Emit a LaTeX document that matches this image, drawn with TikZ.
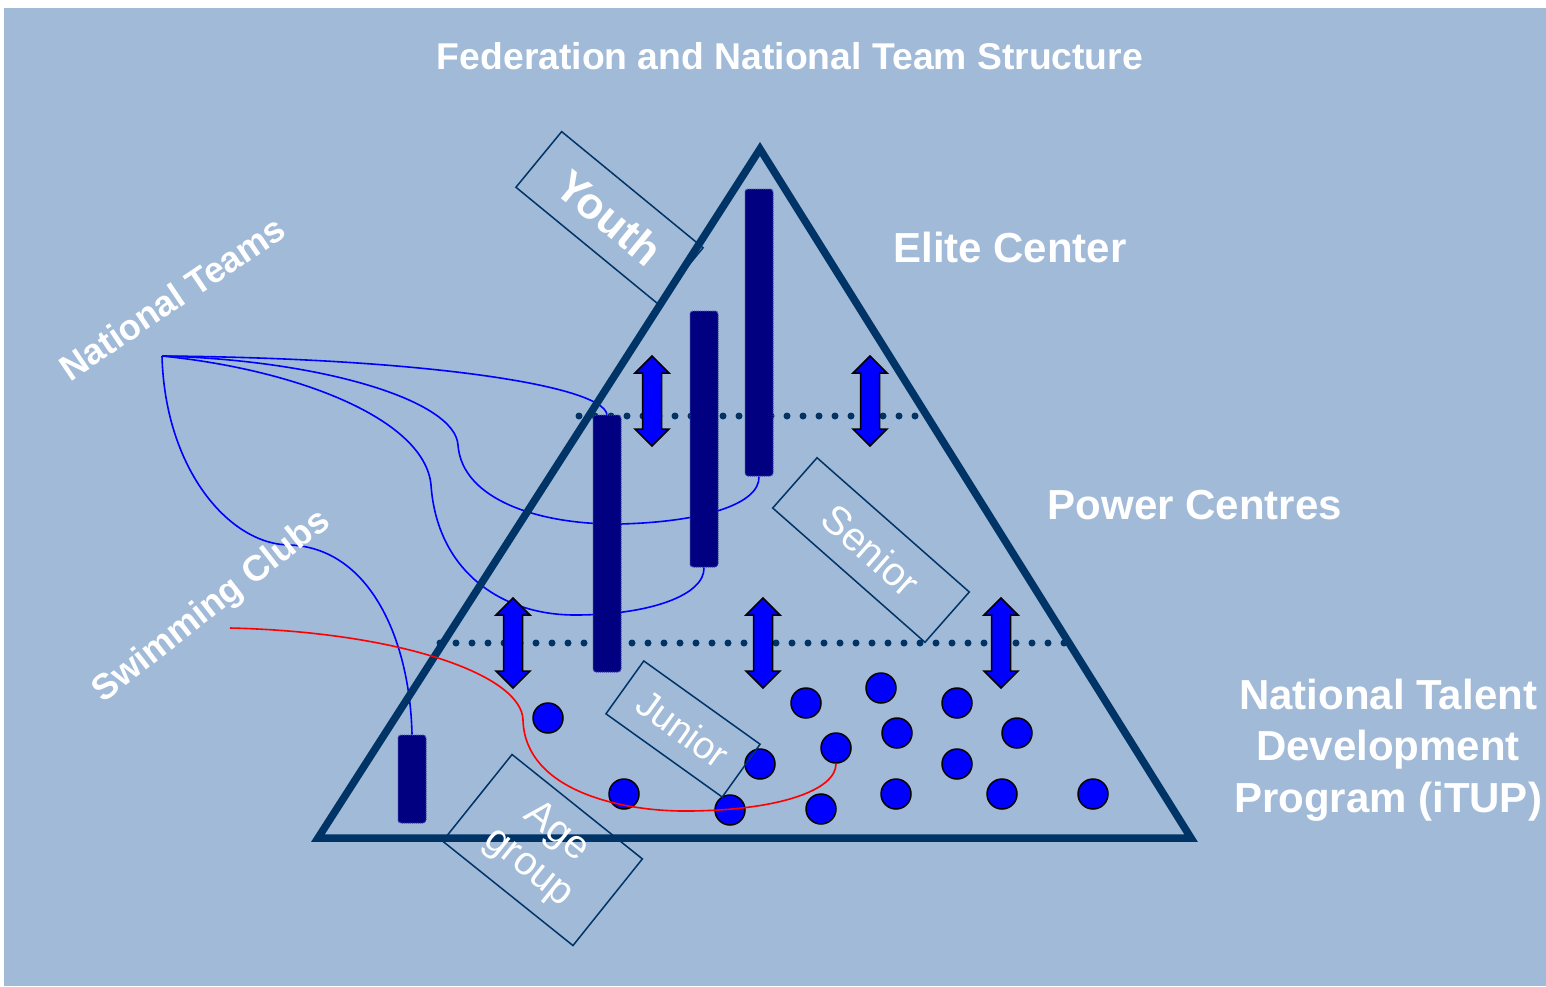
\documentclass[tikz,border=0pt]{standalone}
\usepackage{fontspec}
\setmainfont{Liberation Sans}
\usetikzlibrary{backgrounds}

\definecolor{bgblue}{RGB}{160,186,216}
\definecolor{navyline}{RGB}{0,51,102}
\definecolor{barnavy}{RGB}{0,0,128}
\definecolor{arrowblue}{RGB}{0,0,255}

\tikzset{
  pyramid/.style={draw=navyline, line width=7.5pt},
  level/.style={navyline, line width=7pt, line cap=round, dash pattern=on 0pt off 16pt},
  bar/.style={rectangle, fill=barnavy, draw={rgb,255:red,70;green,70;blue,170}, densely dotted, line width=1pt, rounded corners=3pt, minimum width=28pt, inner sep=0pt},
  talent/.style={circle, fill=arrowblue, draw=black, line width=1.5pt, minimum size=30pt, inner sep=0pt},
  team/.style={draw=arrowblue, line width=1.6pt},
  club/.style={draw=red, line width=1.6pt},
  levelbox/.style={rectangle, draw=navyline, line width=1.5pt, inner sep=0pt, text=white, align=center, font=\fontsize{40}{45}\selectfont},
  tier/.style={text=white, inner sep=0pt, font=\bfseries\fontsize{42}{51.5}\selectfont},
  side/.style={text=white, inner sep=0pt, font=\bfseries\fontsize{36}{40}\selectfont},
  updown/.pic={
    \draw[fill=arrowblue, line width=1.5pt, line join=miter] (0,-45) -- (17,-28) -- (9.5,-28) -- (9.5,28) -- (17,28) -- (0,45) -- (-17,28) -- (-9.5,28) -- (-9.5,-28) -- (-17,-28) -- cycle;
  }
}

\begin{document}
\begin{tikzpicture}[x=1pt,y=-1pt]
  \useasboundingbox (0,0) rectangle (1546,986);

  % pyramid
  \draw[pyramid] (760,149) -- (1191,838) -- (318,838) -- cycle;

  % squads
  \node[bar, minimum height=257pt] (barA) at (607,543.5) {};
  \node[bar, minimum height=256pt] (barB) at (704,439) {};
  \node[bar, minimum height=287pt] (barC) at (759,332.5) {};
  \node[bar, minimum height=88pt] (barD) at (412,779) {};

  % movement between the levels
  \pic (upA) at (652,401) {updown};
  \pic (upB) at (870,401) {updown};
  \pic (upC) at (513,643) {updown};
  \pic (upD) at (763,643) {updown};
  \pic (upE) at (1001,643) {updown};

  % talents
  \foreach \i/\x/\y in {1/548/718, 2/624/794, 3/730/810, 4/760/764, 5/806/703,
      6/836/748, 7/821/809, 8/881/688, 9/897/733, 10/896/794,
      11/957/703, 12/957/764, 13/1017/733, 14/1002/794, 15/1093/794}
    \node[talent] (t\i) at (\x,\y) {};

  % clubs
  \coordinate (sc) at (230,628);
  \draw[club] (sc) .. controls (400,632) and (522,675) .. (523,720)
    .. controls (525,790) and (620,812) .. (690,811)
    .. controls (780,810) and (836,790) .. (t6.south);

  % age levels
  \node[levelbox, minimum width=183pt, minimum height=72pt, rotate=-39.4, font=\bfseries\fontsize{44}{50}\selectfont] (youth) at (609.5,217.5) {Youth};
  \node[levelbox, minimum width=203pt, minimum height=67pt, rotate=-41.4] (senior) at (871,550) {Senior};
  \node[levelbox, minimum width=143pt, minimum height=65pt, rotate=-35.6, font=\fontsize{38}{44}\selectfont] (junior) at (683,729) {Junior};
  \node[levelbox, minimum width=167pt, minimum height=111pt, rotate=-38.7] (agegroup) at (542.5,850) {Age\\group};

  % labels
  \node[text=white, inner sep=0pt, anchor=base, font=\bfseries\fontsize{37.3}{44}\selectfont] (title) at (790,69) {Federation and National Team Structure};
  \node[tier] (elite) at (1010,247) {Elite Center};
  \node[tier] (power) at (1195,505) {Power Centres};
  \node[tier, align=center] (itup) at (1388,750) {National Talent\\Development\\Program (iTUP)};
  \node[side, rotate=34] (natteams) at (172,298) {National Teams};
  \node[side, rotate=38] (clubs) at (212,607) {Swimming Clubs};

  \begin{scope}[on background layer]
    \fill[white] (0,0) rectangle (1546,986);
    \fill[bgblue] (4,8) rectangle (1546,986);
    \draw[level] (579,416) -- (917,416);
    \draw[level] (440,643) -- (1068,643);
    % national teams
    \coordinate (nt) at (162,356);
    \draw[team] (nt) .. controls (420,358) and (602,385) .. (barA.north);
    \draw[team] (nt) .. controls (320,360) and (455,400) .. (458,445)
      .. controls (462,500) and (540,525) .. (620,524)
      .. controls (700,522) and (760,505) .. (barC.south);
    \draw[team] (nt) .. controls (300,370) and (425,420) .. (431,485)
      .. controls (437,570) and (500,615) .. (575,615)
      .. controls (650,615) and (705,595) .. (barB.south);
    \draw[team] (nt) .. controls (165,470) and (230,545) .. (290,545)
      .. controls (370,548) and (410,640) .. (barD.north);
  \end{scope}
\end{tikzpicture}
\end{document}
